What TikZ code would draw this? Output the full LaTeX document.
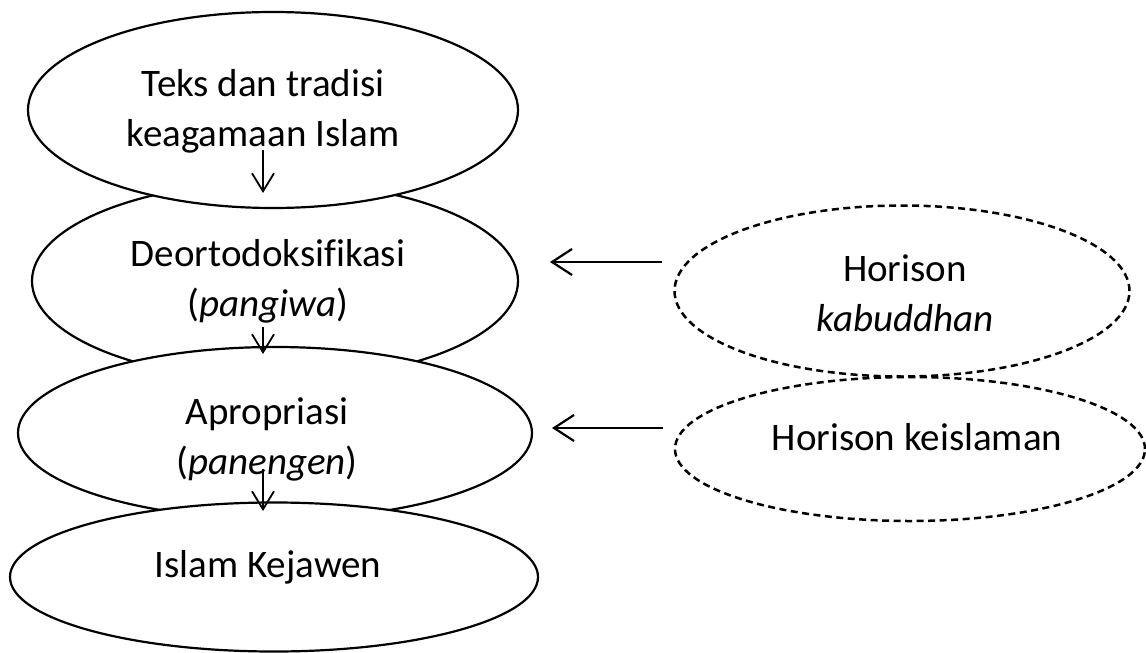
\documentclass[tikz,border=0pt]{standalone}
\usepackage{fontspec}
\setmainfont[Ligatures=NoCommon]{Carlito}
\usetikzlibrary{shapes.geometric,arrows.meta}
\begin{document}
\begin{tikzpicture}[x=1pt,y=-1pt,
  solidell/.style={ellipse, draw, line width=2.2pt, fill=white, inner sep=0pt},
  dashell/.style={ellipse, draw, line width=2.5pt, dash pattern=on 7pt off 4.5pt, inner sep=0pt},
  lbl/.style={font=\fontsize{39}{50}\selectfont, align=center, inner sep=0pt},
  harrow/.style={line width=2.2pt, -{Straight Barb[length=20pt,width=26pt]}},
  varrow/.style={line width=1.8pt, -{Straight Barb[length=18pt,width=22pt]}}
]
\useasboundingbox[fill=white] (0,0) rectangle (1146,653);
% left column (filled ellipses, drawn in stacking order)
\node[solidell, minimum width=486pt, minimum height=198pt] (e2) at (275,281) {};
\node[solidell, minimum width=490pt, minimum height=196pt] (e1) at (273,110) {};
\node[solidell, minimum width=514pt, minimum height=172pt] (e3) at (275,433) {};
\node[solidell, minimum width=528pt, minimum height=149pt] (e4) at (274,577) {};
% right column (dashed ellipses)
\node[dashell, minimum width=455pt, minimum height=171pt] (e5) at (902,291) {};
\node[dashell, minimum width=470pt, minimum height=144pt] (e6) at (910,449) {};
% labels
\node[lbl] (t1) at (263,111) {Teks dan tradisi\\keagamaan Islam};
\node[lbl] (t2) at (268,281) {Deortodoksifikasi\\(\textit{pangiwa})};
\node[lbl] (t3) at (267,439) {Apropriasi\\(\textit{panengen})};
\node[lbl] (t4) at (268,567) {Islam Kejawen};
\node[lbl] (t5) at (905,293) {Horison\\\textit{kabuddhan}};
\node[lbl] (t6) at (917,437) {Horison keislaman};
% connector end points
\coordinate (a1s) at (263,150);
\coordinate (a1e) at (263,193);
\coordinate (a2s) at (263,327);
\coordinate (a2e) at (263,354);
\coordinate (a3s) at (263,469);
\coordinate (a3e) at (263,511);
\coordinate (h1s) at (662,262);
\coordinate (h1e) at (550,262);
\coordinate (h2s) at (663,428);
\coordinate (h2e) at (552,428);
% connectors
\draw[varrow] (a1s) -- (a1e);
\draw[varrow] (a2s) -- (a2e);
\draw[varrow] (a3s) -- (a3e);
\draw[harrow] (h1s) -- (h1e);
\draw[harrow] (h2s) -- (h2e);
\end{tikzpicture}
\end{document}
